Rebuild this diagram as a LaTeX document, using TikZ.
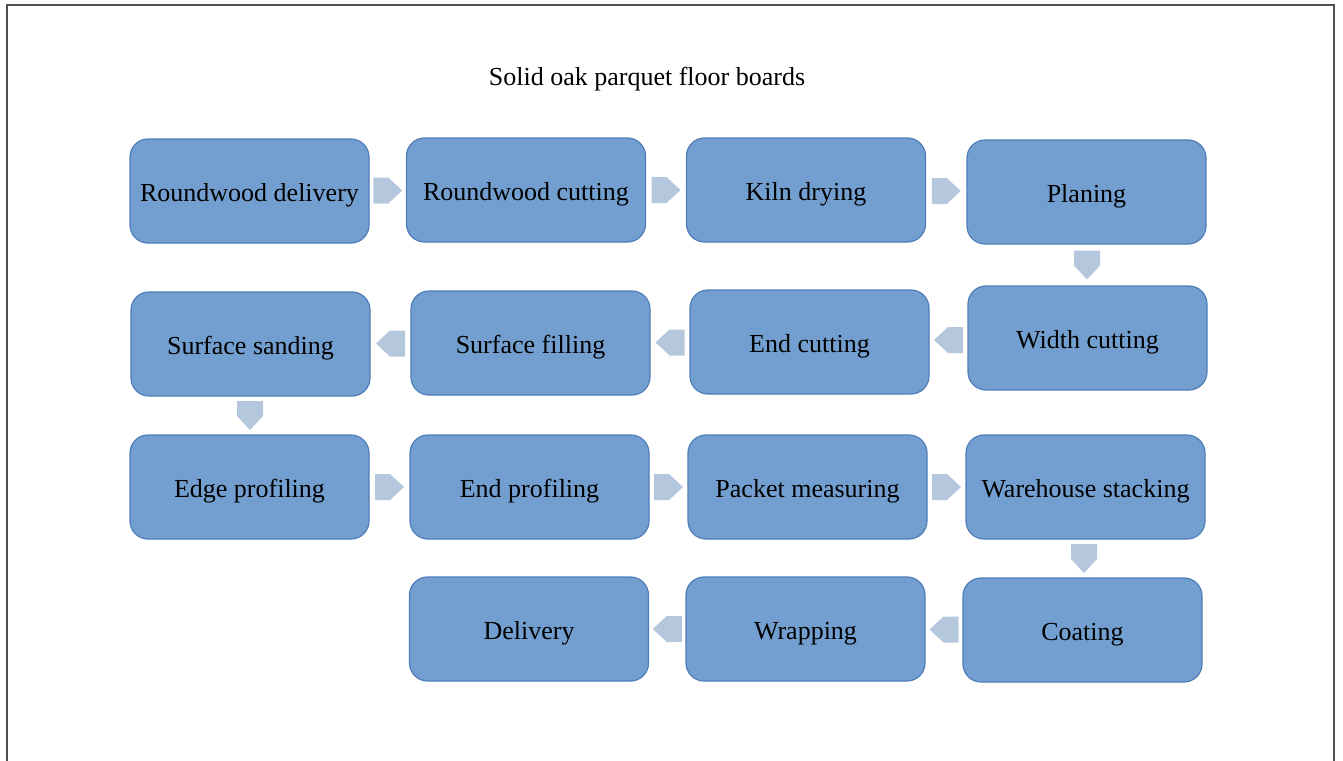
\documentclass[tikz,border=0pt]{standalone}
\usepackage{fontspec}
\setmainfont{Liberation Serif}
\usetikzlibrary{calc}
\definecolor{boxfill}{HTML}{729FCF}
\definecolor{boxline}{HTML}{4F7DB8}
\definecolor{chevfill}{HTML}{B4C7DC}
\definecolor{framecol}{HTML}{505050}
\tikzset{
  stepbox/.style={draw=boxline, line width=1.2pt, fill=boxfill, rounded corners=18pt,
    minimum width=239pt, minimum height=104pt, inner sep=0pt,
    text height=21pt, text depth=0pt,
    font=\fontsize{26}{30}\selectfont, text=black},
  chevshape/.style={fill=chevfill, draw=none},
}
% chevron connector: #1 rotation, #2 from-anchor, #3 to-anchor
\newcommand\mychev[3]{%
  \path ($(#2)!0.5!(#3)$) coordinate (chevmid);
  \fill[chevshape, shift={(chevmid)}, rotate=#1]
    (-14.5,-13) -- (0.5,-13) -- (14.5,0) -- (0.5,13) -- (-14.5,13) -- cycle;}
\begin{document}
\begin{tikzpicture}[x=1pt,y=-1pt]
\useasboundingbox (0,0) rectangle (1343,760);
\draw[framecol, line width=2pt] (7,762) -- (7,5) -- (1334,5) -- (1334,762);
\node[font=\fontsize{26}{30}\selectfont, anchor=base, inner sep=0pt] (title) at (647,85) {Solid oak parquet floor boards};
% row 1
\node[stepbox] (a1) at (249.5,191) {Roundwood delivery};
\node[stepbox] (a2) at (526,190) {Roundwood cutting};
\node[stepbox] (a3) at (806,190) {Kiln drying};
\node[stepbox] (a4) at (1086.5,192) {Planing};
% row 2
\node[stepbox] (b4) at (1087.5,338) {Width cutting};
\node[stepbox] (b3) at (809.5,342) {End cutting};
\node[stepbox] (b2) at (530.5,343) {Surface filling};
\node[stepbox] (b1) at (250.5,344) {Surface sanding};
% row 3
\node[stepbox] (c1) at (249.5,487) {Edge profiling};
\node[stepbox] (c2) at (529.5,487) {End profiling};
\node[stepbox] (c3) at (807.5,487) {Packet measuring};
\node[stepbox] (c4) at (1085.5,487) {Warehouse stacking};
% row 4
\node[stepbox] (d4) at (1082.5,630) {Coating};
\node[stepbox] (d3) at (805.5,629) {Wrapping};
\node[stepbox] (d2) at (529,629) {Delivery};
% connectors
\mychev{0}{a1.east}{a2.west}
\mychev{0}{a2.east}{a3.west}
\mychev{0}{a3.east}{a4.west}
\mychev{-90}{a4.south}{b4.north}
\mychev{180}{b4.west}{b3.east}
\mychev{180}{b3.west}{b2.east}
\mychev{180}{b2.west}{b1.east}
\mychev{-90}{b1.south}{c1.north}
\mychev{0}{c1.east}{c2.west}
\mychev{0}{c2.east}{c3.west}
\mychev{0}{c3.east}{c4.west}
\mychev{-90}{c4.south}{d4.north}
\mychev{180}{d4.west}{d3.east}
\mychev{180}{d3.west}{d2.east}
\end{tikzpicture}
\end{document}
